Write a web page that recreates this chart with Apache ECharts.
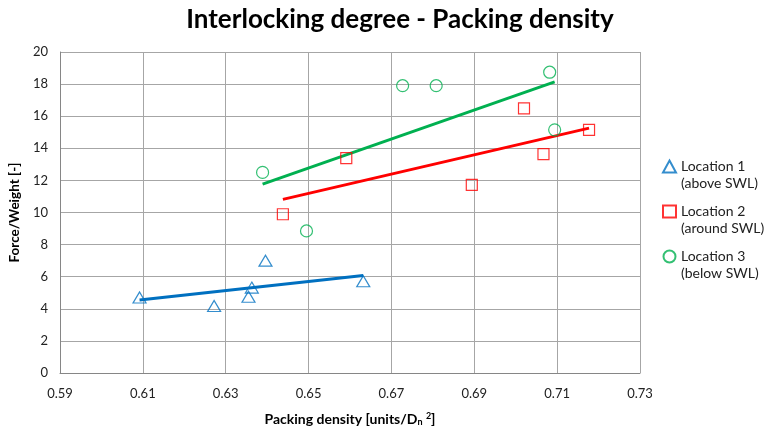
<!DOCTYPE html>
<html><head><meta charset="utf-8">
<script src="https://cdn.jsdelivr.net/npm/echarts@6/dist/echarts.min.js"></script>
<style>html,body{margin:0;padding:0;background:#fff}#c{width:765px;height:432px}</style>
</head><body><div id="c"></div>
<script>
// ---- data ----
const seriesNames = ['Location 1 (above SWL)', 'Location 2 (around SWL)', 'Location 3 (below SWL)'];
const legendLine1 = ['Location 1', 'Location 2', 'Location 3'];
const legendLine2 = ['(above SWL)', '(around SWL)', '(below SWL)'];
const loc1X = [0.6092, 0.6272, 0.6355, 0.6363, 0.6396, 0.6632];
const loc1Y = [4.7, 4.17, 4.75, 5.32, 7.0, 5.72];
const loc2X = [0.6438, 0.6591, 0.6894, 0.7020, 0.7067, 0.7177];
const loc2Y = [9.89, 13.39, 11.72, 16.49, 13.64, 15.15];
const loc3X = [0.6389, 0.6495, 0.6727, 0.6808, 0.7082, 0.7094];
const loc3Y = [12.5, 8.85, 17.9, 17.9, 18.74, 15.15];
const xTickLabels = ['0.59','0.61','0.63','0.65','0.67','0.69','0.71','0.73'];
const yTickLabels = ['0','2','4','6','8','10','12','14','16','18','20'];

const colors = ['#0070C0', '#FF0000', '#00B050'];
const symbols = ['triangle', 'rect', 'circle'];
const symbolSizes = [[13,11], 11, 12];

function pairs(xs, ys){ return xs.map((x,i)=>[x, ys[i]]); }
function trend(xs, ys){
  const n = xs.length;
  const mx = xs.reduce((a,b)=>a+b,0)/n, my = ys.reduce((a,b)=>a+b,0)/n;
  let sxy=0, sxx=0;
  for(let i=0;i<n;i++){ sxy+=(xs[i]-mx)*(ys[i]-my); sxx+=(xs[i]-mx)*(xs[i]-mx); }
  const b = sxy/sxx, a = my - b*mx;
  const x0 = Math.min(...xs), x1 = Math.max(...xs);
  return [[x0, a+b*x0],[x1, a+b*x1]];
}
const sets = [[loc1X,loc1Y],[loc2X,loc2Y],[loc3X,loc3Y]];
const font = 'Lato, "Open Sans", sans-serif';

const series = [];
sets.forEach((s,i)=>{
  series.push({
    name: 'trend'+i, type:'line', xAxisIndex:0, yAxisIndex:0,
    data: trend(s[0], s[1]), showSymbol:false, symbol:'none',
    lineStyle:{color:colors[i], width:3}, z:2, silent:true
  });
});
sets.forEach((s,i)=>{
  series.push({
    name: seriesNames[i], type:'scatter', xAxisIndex:0, yAxisIndex:0,
    data: pairs(s[0], s[1]), symbol: symbols[i], symbolSize: symbolSizes[i],
    itemStyle:{color:'rgba(0,0,0,0)', borderColor:colors[i], borderWidth:1.2}, z:3
  });
});

const chart = echarts.init(document.getElementById('c'), null, {renderer:'canvas'});
chart.setOption({
  animation:false,
  backgroundColor:'#fff',
  title:{text:'Interlocking degree - Packing density', left:395, textAlign:'center', top:2,
    textStyle:{fontFamily:font, fontWeight:'bold', fontSize:26, color:'#000'}},
  grid:{left:60, right:125, top:52, bottom:57},
  legend:{
    data: seriesNames, orient:'vertical', left:657, top:136, itemGap:-6,
    itemWidth:13, itemHeight:12,
    formatter:(name)=>{ const i = seriesNames.indexOf(name); return ' \n' + legendLine1[i] + '\n' + legendLine2[i]; },
    textStyle:{fontFamily:font, fontSize:14, color:'#222', lineHeight:17}
  },
  xAxis:[
    {type:'value', min:0.59, max:0.73, show:false, splitLine:{show:false}},
    {type:'value', min:0, max:0.14, interval:0.02, position:'bottom',
     axisLine:{show:true, lineStyle:{color:'#868686'}}, axisTick:{show:false},
     splitLine:{show:true, lineStyle:{color:'#A6A6A6', width:1}},
     axisLabel:{fontFamily:font, fontSize:13, color:'#222', margin:14,
       formatter:(v)=>xTickLabels[Math.round(v/0.02)]},
     name:'{a|Packing density [units/D}{sub|n}{a| }{sup|2}{a|]}', nameLocation:'middle', nameGap:39,
     nameTextStyle:{rich:{
       a:{fontFamily:font, fontWeight:'bold', fontSize:14, color:'#000'},
       sub:{fontFamily:font, fontWeight:'bold', fontSize:9, color:'#000', verticalAlign:'bottom', padding:[6,0,0,0]},
       sup:{fontFamily:font, fontWeight:'bold', fontSize:9, color:'#000', verticalAlign:'top', padding:[0,0,6,0]}
     }}
    }
  ],
  yAxis:[{type:'value', min:0, max:20, interval:2,
    axisLine:{show:true, lineStyle:{color:'#868686'}}, axisTick:{show:false},
    splitLine:{show:true, lineStyle:{color:'#A6A6A6', width:1}},
    axisLabel:{fontFamily:font, fontSize:13, color:'#222', margin:12,
      formatter:(v)=>yTickLabels[Math.round(v/2)]},
    name:'Force/Weight [-]', nameLocation:'middle', nameGap:36,
    nameTextStyle:{fontFamily:font, fontWeight:'bold', fontSize:13.5, color:'#000'}
  }],
  series: series
});
</script></body></html>
